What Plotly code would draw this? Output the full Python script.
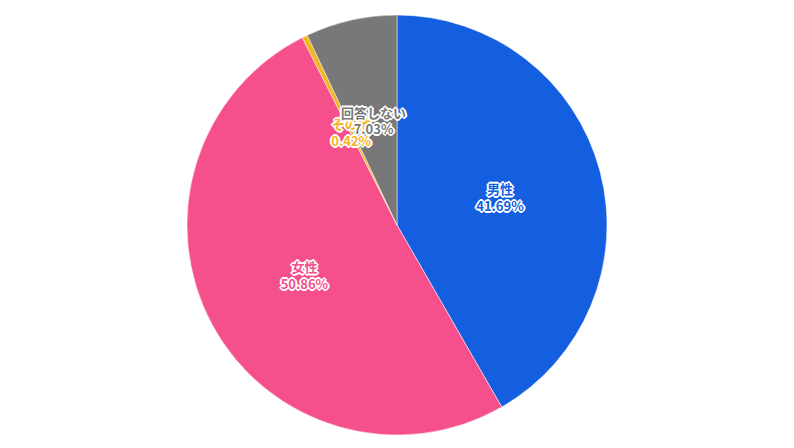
import plotly.graph_objects as go

labels = ["男性", "女性", "その他", "回答しない"]
values = [41.69, 50.86, 0.42, 7.03]
colors = ["#135FE0", "#F5508C", "#F5B51C", "#787878"]

W, H = 794, 448
ml, mr, mt, mb = 0, 16, 7, 21
ph = H - mt - mb
pw = W - ml - mr

offs = [(-1, -1), (0, -1), (1, -1), (-1, 0), (1, 0), (-1, 1), (0, 1), (1, 1),
        (-2, 0), (2, 0), (0, -2), (0, 2)]
shadow = ",".join(f"{a}px {b}px 0px white" for a, b in offs)

TMPL = "<b>%{label}<br>%{percent:.2%}</b>"

def tmpl_for(idx):
    return [TMPL if i in idx else "" for i in range(len(labels))]

fig = go.Figure()
fig.add_trace(go.Pie(
    labels=labels, values=values, sort=False, direction="clockwise", rotation=0,
    marker=dict(colors=colors, line=dict(color="white", width=0.5)),
    texttemplate=tmpl_for({0, 1}), textposition="inside", insidetextorientation="horizontal",
    textfont=dict(family="Noto Sans CJK JP", size=13, color=colors, shadow=shadow),
    showlegend=False, hoverinfo="label+percent",
))

# transparent overlays that carry the thin-slice labels near mid radius
for frac, idx in ((0.5, {2}), (0.6, {3})):
    dy = frac / 2
    dx = frac * ph / pw / 2
    fig.add_trace(go.Pie(
        labels=labels, values=values, sort=False, direction="clockwise", rotation=0,
        marker=dict(colors=["rgba(0,0,0,0)"] * 4, line=dict(width=0)),
        hole=0.7,
        domain=dict(x=[0.5 - dx, 0.5 + dx], y=[0.5 - dy, 0.5 + dy]),
        texttemplate=tmpl_for(idx), textposition="inside", insidetextorientation="horizontal",
        textfont=dict(family="Noto Sans CJK JP", size=13, color=colors, shadow=shadow),
        showlegend=False, hoverinfo="skip",
    ))

fig.update_layout(
    width=W, height=H,
    margin=dict(l=ml, r=mr, t=mt, b=mb),
    paper_bgcolor="white",
    uniformtext=dict(minsize=13, mode="show"),
)
fig.write_html("out.html")
